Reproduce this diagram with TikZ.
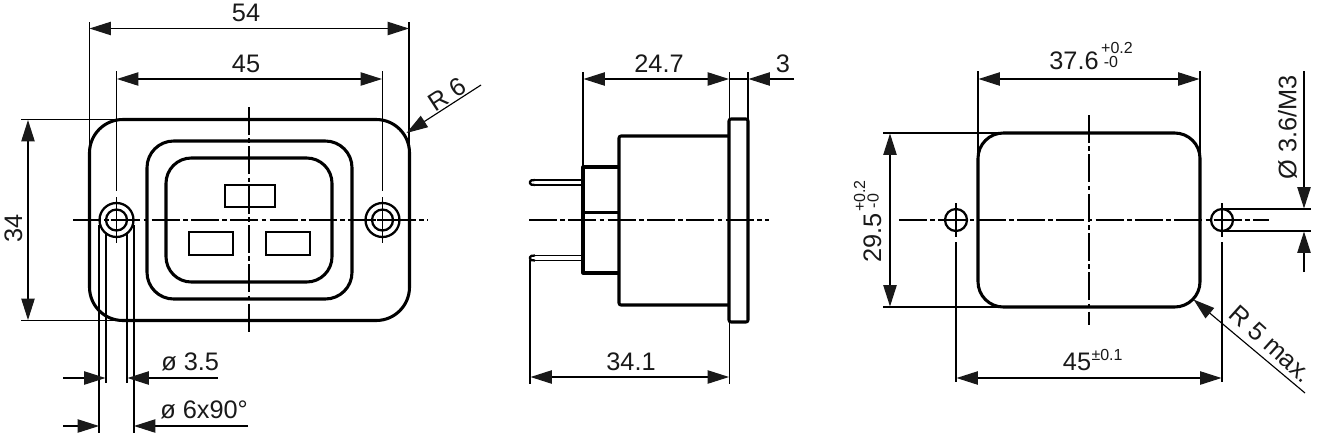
\documentclass[tikz,border=0pt]{standalone}
\usepackage{fontspec}
\setmainfont{Liberation Sans}
\usetikzlibrary{arrows.meta}
\tikzset{
  outline/.style={line width=2.3pt,line join=round},
  part/.style={line width=1.7pt,line join=miter},
  pin/.style={line width=1.4pt},
  thin line/.style={line width=0.85pt},
  centre/.style={line width=0.85pt,dash pattern=on 21pt off 2.5pt on 3.5pt off 2.5pt},
  dim/.style={line width=0.85pt,{Triangle[length=16pt,width=10pt,color=black!90]}-{Triangle[length=16pt,width=10pt,color=black!90]}},
  lead/.style={line width=0.85pt,-{Triangle[length=16pt,width=10pt,color=black!90]}},
  label/.style={inner sep=0pt,font=\fontsize{19}{19}\selectfont,text=black!90},
  tol/.style={inner sep=0pt,font=\fontsize{12}{12}\selectfont,text=black!90}
}
\begin{document}
\begin{tikzpicture}[x=0.75pt,y=-0.75pt]
\useasboundingbox (0,0) rectangle (1323,433);
% ---------- LEFT VIEW ----------
\draw[centre] (249,107) -- (249,333);
\draw[centre] (73,220) -- (428,220);
\draw[outline,rounded corners=25pt] (89.5,119.5) rectangle (409.5,320.5);
\draw[outline,rounded corners=20pt] (147,141) rectangle (352,299);
\draw[outline,rounded corners=19pt] (166,158) rectangle (332,282);
\draw[part] (225,185) rectangle (275,207);
\draw[part] (189,232) rectangle (233,255);
\draw[part] (266,232) rectangle (310,255);
\foreach \hx in {116.5,382.5}{
  \draw[part] (\hx,220) circle[radius=17];
  \draw[part] (\hx,220) circle[radius=10.5];
  \draw[thin line] (\hx,197) -- (\hx,243);
  \draw[thin line] (\hx-6,220) -- (\hx+6,220);
}
% extension lines
\draw[thin line] (89.5,22) -- (89.5,150);
\draw[thin line] (409,22) -- (409,145);
\draw[thin line] (116.5,71) -- (116.5,191);
\draw[thin line] (382.5,71) -- (382.5,191);
\draw[thin line] (21,119.5) -- (118,119.5);
\draw[thin line] (21,320.5) -- (125,320.5);
\draw[thin line] (99,225) -- (99,433);
\draw[thin line] (134,225) -- (134,433);
\draw[thin line] (106,233) -- (106,383);
\draw[thin line] (127,233) -- (127,383);
% dimensions
\draw[dim] (89.5,28.5) -- (409,28.5);
\node[label] (d54) at (246,13) {54};
\draw[dim] (117,79) -- (382,79);
\node[label] (d45) at (246,64) {45};
\draw[dim] (28,120) -- (28,320);
\node[label,rotate=90] (d34) at (13.5,228) {34};
\draw[lead] (63,378) -- (105.5,378);
\draw[lead] (217.5,378) -- (127.5,378);
\node[label,anchor=base west] (dh) at (161,370) {ø 3.5};
\draw[lead] (63,426) -- (99,426);
\draw[lead] (248,426) -- (134,426);
\node[label,anchor=base west] (dc) at (160,418) {ø 6x90°};
\draw[lead] (481,85) -- (406.5,133);
\node[label,rotate=33] (r6) at (447,94) {R 6};
% ---------- MIDDLE VIEW ----------
\draw[centre] (529,220) -- (769,220);
\draw[outline,rounded corners=1.5pt] (729,119) -- (748,119) -- (748,322) -- (729,322) -- cycle;
\draw[outline,rounded corners=1.5pt] (729,136) -- (619,136) -- (619,305) -- (729,305);
\draw[outline] (619,167) -- (583,167) -- (583,273) -- (619,273);
\draw[outline] (583,212.5) -- (619,212.5);
\draw[pin] (583,180) -- (532,180) (583,185) -- (532,185);
\draw[pin] (583,255.5) -- (532,255.5) (583,260.5) -- (532,260.5);
\draw[part,rounded corners=1pt] (535,180) -- (530,180.5) -- (530,184.5) -- (535,185);
\draw[part,rounded corners=1pt] (535,255.5) -- (530,256) -- (530,260) -- (535,260.5);
\draw[thin line] (583,72) -- (583,167);
\draw[thin line] (729.5,72) -- (729.5,119);
\draw[thin line] (748,72) -- (748,119);
\draw[thin line] (530,260) -- (530,384);
\draw[thin line] (729.5,322) -- (729.5,384);
\draw[dim] (583.5,79) -- (729,79);
\draw[thin line] (729,79) -- (748,79);
\draw[lead] (794,79) -- (748.5,79);
\node[label] (d247) at (659,64) {24.7};
\node[label] (d3) at (783,64) {3};
\draw[dim] (530.5,377) -- (729,377);
\node[label] (d341) at (631,362) {34.1};
% ---------- RIGHT VIEW ----------
\draw[centre] (1089,115) -- (1089,325);
\draw[centre] (899,220) -- (1269,220);
\draw[outline,rounded corners=19pt] (978,133) rectangle (1200,307);
\foreach \hx in {956,1222}{
  \draw[part] (\hx,220) circle[radius=11];
  \draw[thin line] (\hx,203) -- (\hx,237);
}
\draw[thin line] (978,71) -- (978,155);
\draw[thin line] (1200,71) -- (1200,155);
\draw[thin line] (883,133) -- (1002,133);
\draw[thin line] (883,307) -- (1002,307);
\draw[thin line] (956,242) -- (956,382);
\draw[thin line] (1222,242) -- (1222,382);
\draw[thin line] (1222,209) -- (1311,209);
\draw[thin line] (1222,231) -- (1311,231);
\draw[dim] (978.5,79) -- (1199.5,79);
\node[label] (d376) at (1074,60.5) {37.6};
\node[tol] (d376a) at (1117,48) {+0.2};
\node[tol] (d376b) at (1111,62) {-0};
\draw[dim] (890,133.5) -- (890,306.5);
\node[label,rotate=90] (d295) at (872.5,238) {29.5};
\node[tol,rotate=90] (d295a) at (859.5,196) {+0.2};
\node[tol,rotate=90] (d295b) at (873,201) {-0};
\draw[dim] (956.5,378) -- (1221.5,378);
\node[label] (d45b) at (1077,362) {45};
\node[tol] (d45c) at (1107,355) {±0.1};
\draw[lead] (1304,71) -- (1304,208.5);
\draw[lead] (1304,272) -- (1304,231.5);
\node[label,rotate=90] (dm3) at (1287.5,127) {Ø 3.6/M3};
\draw[lead] (1305,393) -- (1193.5,299.5);
\node[label,rotate=-42] (r5) at (1271,344) {R 5 max.};
\end{tikzpicture}
\end{document}
